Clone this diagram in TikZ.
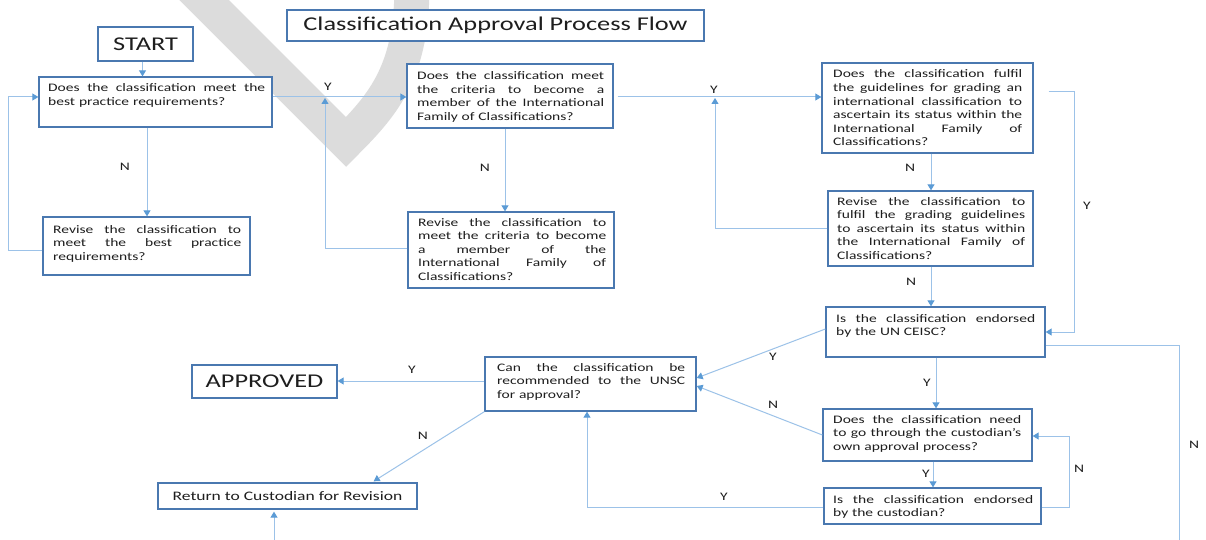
\documentclass[tikz,border=0pt]{standalone}
\usepackage{fontspec}
\setmainfont{Carlito}[FakeStretch=1.35]
\usetikzlibrary{arrows.meta}
\definecolor{boxc}{HTML}{4A78B0}
\definecolor{linec}{HTML}{9CC2E8}
\definecolor{arrc}{HTML}{5B9BD5}
\definecolor{txtc}{HTML}{1E1E1E}
\definecolor{wm}{HTML}{DCDCDC}
\newcommand\bodyf{\fontsize{11.5}{13.6}\selectfont}
\newcommand\bigf{\fontsize{19.5}{22}\selectfont}
\newcommand\J[1]{\leavevmode\hbox to \hsize{\spaceskip=\fontdimen2\font plus 1fil\relax #1}}
\newcommand\mkbox[6]{\node[box,minimum width={#4-#2},minimum height={#5-#3}] (#1) at ({(#2+#4)/2},{(#3+#5)/2}) {#6};}
\tikzset{
  box/.style={draw=boxc, line width=1.3pt, fill=white, inner sep=0pt, text=txtc},
  txt/.style={font=\bodyf, text=txtc, inner sep=0pt, align=left, anchor=base west},
  yn/.style={font=\bodyf, text=txtc, inner sep=0pt},
  con/.style={draw=linec, line width=1pt, -{Triangle[width=7pt,length=6pt,color=arrc]}},
  plainline/.style={draw=linec, line width=1pt},
}
\begin{document}
\begin{tikzpicture}[x=1pt,y=-1pt]
\useasboundingbox (0,0) rectangle (1206,540);
\fill[white] (0,0) rectangle (1206,540);
\clip (0,0) rectangle (1206,540);
% watermark
\draw[wm, line width=35pt, line join=miter] (190,-14) -- (346,142) .. controls (385,103) and (412,70) .. (412,-15);

% boxes
\mkbox{title}{287}{10}{704}{41}{\bigf Classification Approval Process Flow}
\mkbox{start}{98}{27}{193}{61}{\bigf START}
\mkbox{b1}{39}{77}{272}{127}{}
\mkbox{b2}{407}{64}{613}{128}{}
\mkbox{b3}{822}{63}{1033}{153}{}
\mkbox{r1}{43}{217}{250}{275}{}
\mkbox{r2}{408}{212}{614}{288}{}
\mkbox{r3}{828}{191}{1033}{266}{}
\mkbox{ceisc}{826}{307}{1045}{357}{}
\mkbox{can}{485}{357}{696}{411}{}
\mkbox{appr}{192}{365}{337}{398}{\bigf APPROVED}
\mkbox{ret}{158}{483}{417}{509}{\fontsize{13}{15}\selectfont Return to Custodian for Revision}
\mkbox{need}{823}{409}{1032}{461}{}
\mkbox{cust}{824}{488}{1041}{524}{}

% box texts
\node[txt, text width=217pt] (b1t) at (48,92) {\J{Does the classification meet the}\\best practice requirements?};
\node[txt, text width=187pt] (b2t) at (417,79.5) {\J{Does the classification meet}\\\J{the criteria to become a}\\\J{member of the International}\\Family of Classifications?};
\node[txt, text width=189pt] (b3t) at (833,78) {\J{Does the classification fulfil}\\\J{the guidelines for grading an}\\\J{international classification to}\\\J{ascertain its status within the}\\\J{International Family of}\\Classifications?};
\node[txt, text width=188pt] (r1t) at (53,233) {\J{Revise the classification to}\\\J{meet the best practice}\\requirements?};
\node[txt, text width=188pt] (r2t) at (418,226) {\J{Revise the classification to}\\\J{meet the criteria to become}\\\J{a member of the}\\\J{International Family of}\\Classifications?};
\node[txt, text width=188pt] (r3t) at (837,205) {\J{Revise the classification to}\\\J{fulfil the grading guidelines}\\\J{to ascertain its status within}\\\J{the International Family of}\\Classifications?};
\node[txt, text width=199pt] (ceisct) at (836,322) {\J{Is the classification endorsed}\\by the UN CEISC?};
\node[txt, text width=188pt] (cant) at (497,371) {\J{Can the classification be}\\\J{recommended to the UNSC}\\for approval?};
\node[txt, text width=188pt] (needt) at (833,423) {\J{Does the classification need}\\\J{to go through the custodian’s}\\own approval process?};
\node[txt, text width=200pt] (custt) at (833,503) {\J{Is the classification endorsed}\\by the custodian?};

% free ends
\coordinate (j1) at (325,98);
\coordinate (j2) at (715,98);
\coordinate (offN) at (1179,545);
\coordinate (offR) at (274,545);

% connectors
\draw[con] ([xshift=-3pt]start.south) -- ([xshift=-3pt]start.south |- b1.north);
\draw[con] (b1.east |- 0,97) -- (b2.west |- 0,97);
\draw[con] (b1.south -| 147,0) -- (r1.north -| 147,0);
\draw[con] (r1.west |- 0,250) -| (8,97) -- (b1.west |- 0,97);
\draw[con] (b2.south -| 505,0) -- (r2.north -| 505,0);
\draw[con] (r2.west |- 0,248) -| (j1);
\draw[con, shorten <=4pt] (b2.east |- 0,97) -- (b3.west |- 0,97);
\draw[con] (r3.west |- 0,228) -| (j2);
\draw[con] (b3.south -| 931,0) -- (r3.north -| 931,0);
\draw[con, shorten <=15pt] (b3.east |- 0,92) -- (1074,92) -- (1074,332) -- (ceisc.east |- 0,332);
\draw[con] (r3.south -| 931,0) -- (ceisc.north -| 931,0);
\draw[plainline] (ceisc.east |- 0,345) -| (offN);
\draw[con] (ceisc.south -| 936,0) -- (need.north -| 936,0);
\draw[con] (ceisc.west |- 0,329) -- (can.east |- 0,378);
\draw[con] (need.west |- 0,435) -- (can.east |- 0,386);
\draw[con] (need.south -| 933,0) -- (cust.north -| 933,0);
\draw[con] (cust.east |- 0,507) -| (1069,436) -- (need.east |- 0,436);
\draw[con] (cust.west |- 0,507) -| (can.south -| 587,0);
\draw[con] (can.west |- 0,381) -- (appr.east |- 0,381);
\draw[con, shorten >=2pt] (can.south west) -- (ret.north -| 372,0);
\draw[con, shorten >=2pt] (offR) -- (ret.south -| 274,0);

% Y/N labels
\node[yn] (l1) at (328,87) {Y};
\node[yn] (l2) at (714,90) {Y};
\node[yn] (l3) at (125,167) {N};
\node[yn] (l4) at (485,168) {N};
\node[yn] (l5) at (910,168) {N};
\node[yn] (l6) at (1087,206) {Y};
\node[yn] (l7) at (911,282) {N};
\node[yn] (l8) at (773,357) {Y};
\node[yn] (l9) at (927,383) {Y};
\node[yn] (l10) at (412,370) {Y};
\node[yn] (l11) at (773,405) {N};
\node[yn] (l12) at (423,436) {N};
\node[yn] (l13) at (1194,445) {N};
\node[yn] (l14) at (926,474) {Y};
\node[yn] (l15) at (1079,469) {N};
\node[yn] (l16) at (724,497) {Y};
\end{tikzpicture}
\end{document}
